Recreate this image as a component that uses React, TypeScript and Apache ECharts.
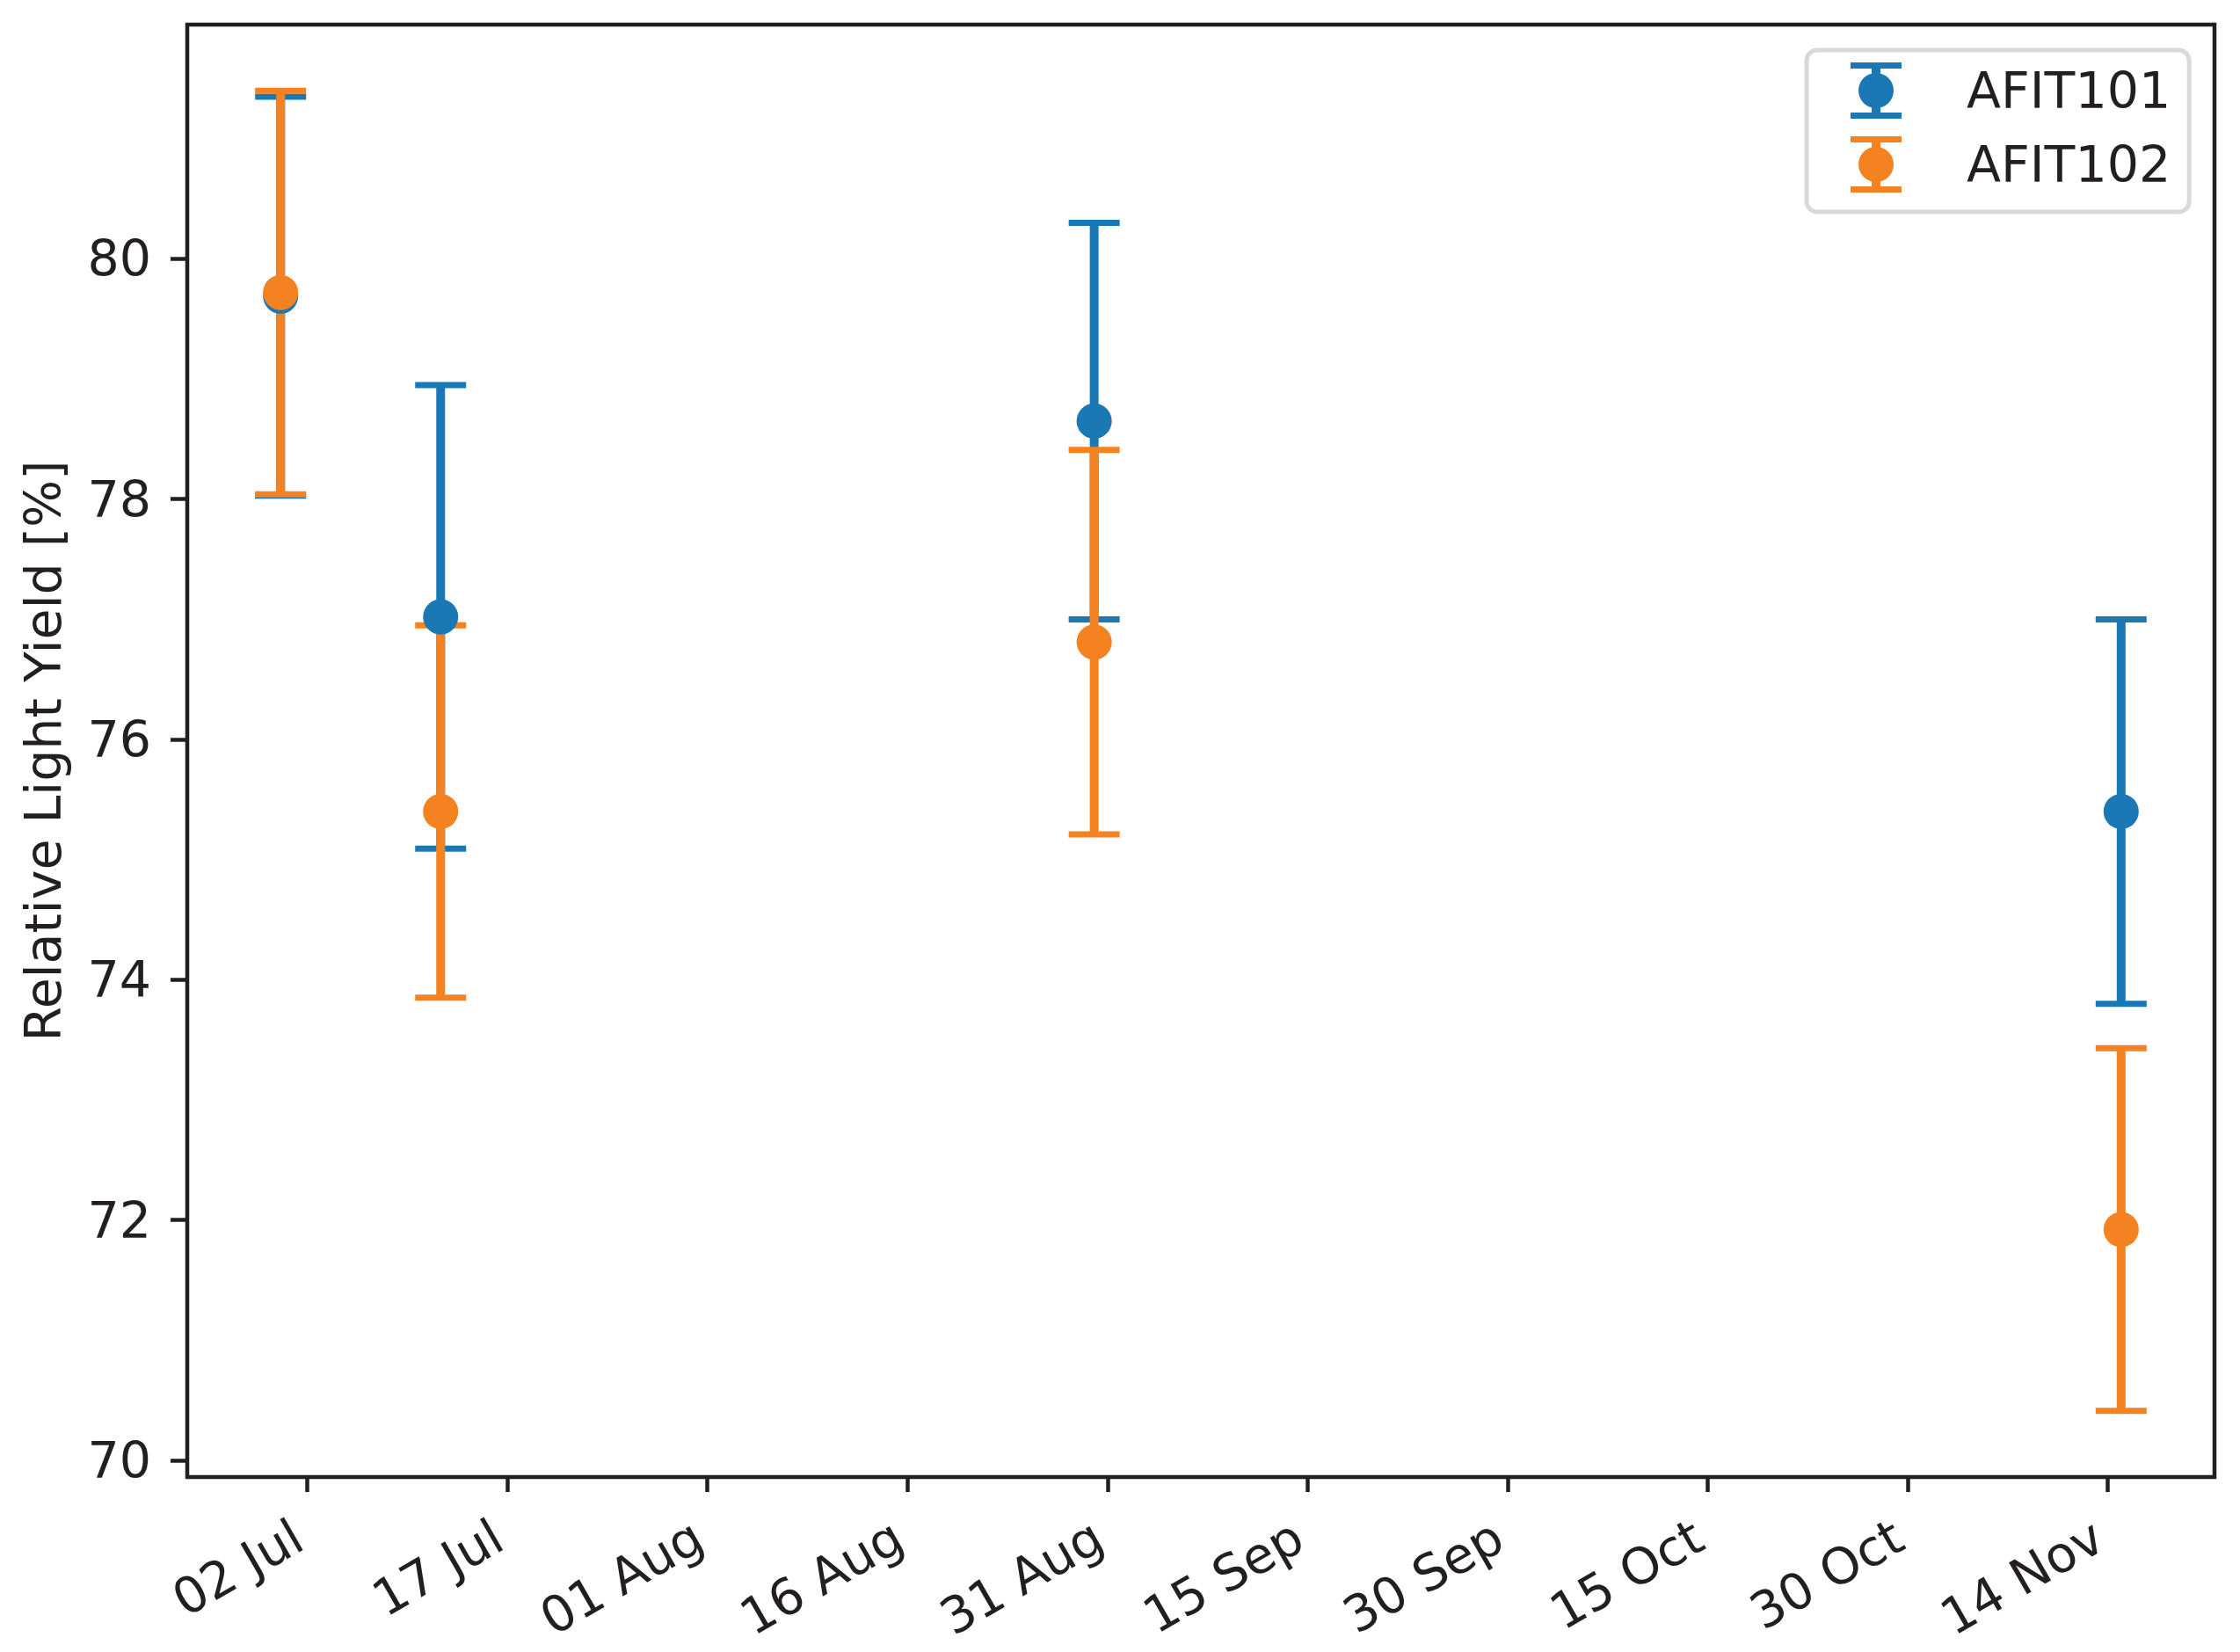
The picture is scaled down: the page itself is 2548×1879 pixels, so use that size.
import React, { useEffect, useRef } from "react";
import * as echarts from "echarts";

// ---- data ----
const BASE_DATE = "2021-07-02";
const AXIS_MIN_DATE = "2021-06-23";
const AXIS_MAX_DATE = "2021-11-22";
const tickDates = [
  "2021-07-02", "2021-07-17", "2021-08-01", "2021-08-16", "2021-08-31",
  "2021-09-15", "2021-09-30", "2021-10-15", "2021-10-30", "2021-11-14",
];
const measureDates = ["2021-06-30", "2021-07-12", "2021-08-30", "2021-11-15"];
const afit101Values = [79.69, 77.02, 78.65, 75.4];
const afit101Errors = [1.66, 1.93, 1.65, 1.6];
const afit102Values = [79.72, 75.4, 76.81, 71.92];
const afit102Errors = [1.68, 1.55, 1.6, 1.51];
const yTicks = [70, 72, 74, 76, 78, 80];
const seriesNames = ["AFIT101", "AFIT102"];

const BLUE = "#1a78b4";
const ORANGE = "#f58220";
const INK = "#231f20";
const FONT = "DejaVu Sans";
const FS = 57;
const MONTHS = ["Jan", "Feb", "Mar", "Apr", "May", "Jun", "Jul", "Aug", "Sep", "Oct", "Nov", "Dec"];

const DAY = 86400000;
const toMs = (s: string) => {
  const [y, m, d] = s.split("-").map(Number);
  return Date.UTC(y, m - 1, d);
};
const toDay = (s: string) => Math.round((toMs(s) - toMs(BASE_DATE)) / DAY);
const fmtDay = (v: number) => {
  const dt = new Date(toMs(BASE_DATE) + Math.round(v) * DAY);
  const dd = String(dt.getUTCDate()).padStart(2, "0");
  return `${dd} ${MONTHS[dt.getUTCMonth()]}`;
};

const ICON =
  "path://M0 0H58V7H0Z M24 7H34V57H24Z M0 57H58V64H0Z M9 32A20 20 0 1 1 49 32A20 20 0 1 1 9 32Z";

function errorBarSeries(name: string, color: string, values: number[], errs: number[]) {
  return {
    type: "custom",
    name,
    z: 2,
    encode: { x: 0, y: [1, 2] },
    data: measureDates.map((d, i) => [toDay(d), values[i] - errs[i], values[i] + errs[i]]),
    renderItem: (params: any, api: any) => {
      const x = api.value(0);
      const top = api.coord([x, api.value(2)]);
      const bot = api.coord([x, api.value(1)]);
      const half = 29;
      return {
        type: "group",
        children: [
          {
            type: "line",
            shape: { x1: top[0], y1: top[1], x2: bot[0], y2: bot[1] },
            style: { stroke: color, lineWidth: 10 },
          },
          {
            type: "line",
            shape: { x1: top[0] - half, y1: top[1], x2: top[0] + half, y2: top[1] },
            style: { stroke: color, lineWidth: 7 },
          },
          {
            type: "line",
            shape: { x1: bot[0] - half, y1: bot[1], x2: bot[0] + half, y2: bot[1] },
            style: { stroke: color, lineWidth: 7 },
          },
        ],
      };
    },
  };
}

function markerSeries(name: string, color: string, values: number[]) {
  return {
    type: "scatter",
    name,
    z: 3,
    symbol: "circle",
    symbolSize: 40,
    itemStyle: { color, opacity: 1 },
    data: measureDates.map((d, i) => [toDay(d), values[i]]),
  };
}

export default function App() {
  const ref = useRef<HTMLDivElement>(null);
  useEffect(() => {
    if (!ref.current) return;
    const chart = echarts.init(ref.current, undefined, { renderer: "svg" });
    const xTickValues = tickDates.map(toDay);
    chart.setOption({
      animation: false,
      backgroundColor: "#ffffff",
      color: [BLUE, ORANGE],
      textStyle: { fontFamily: FONT, color: INK },
      grid: {
        left: 213,
        right: 29,
        top: 28,
        bottom: 199,
        show: true,
        borderColor: INK,
        borderWidth: 4.5,
        backgroundColor: "transparent",
      },
      legend: {
        orient: "vertical",
        left: 2055,
        top: 57,
        padding: [14, 21, 22, 50],
        itemWidth: 58,
        itemHeight: 64,
        itemGap: 20,
        backgroundColor: "#ffffff",
        borderColor: "#d8d9da",
        borderWidth: 5,
        borderRadius: 12,
        textStyle: { fontFamily: FONT, fontSize: FS, color: INK, padding: [0, 0, 0, 69] },
        data: [
          { name: seriesNames[0], icon: ICON, itemStyle: { color: BLUE } },
          { name: seriesNames[1], icon: ICON, itemStyle: { color: ORANGE } },
        ],
      },
      xAxis: {
        type: "value",
        min: toDay(AXIS_MIN_DATE),
        max: toDay(AXIS_MAX_DATE),
        splitLine: { show: false },
        axisLine: { show: false, onZero: false },
        axisTick: {
          show: true,
          length: 17,
          lineStyle: { color: INK, width: 4.5 },
          customValues: xTickValues,
        },
        axisLabel: {
          customValues: xTickValues,
          rotate: 30,
          margin: 57,
          padding: [0, 12, 0, 0],
          fontFamily: FONT,
          fontSize: FS,
          color: INK,
          formatter: (v: number) => fmtDay(v),
        },
      },
      yAxis: {
        type: "value",
        min: 69.86,
        max: 81.95,
        name: "Relative Light Yield [%]",
        nameLocation: "middle",
        nameGap: 136,
        nameTextStyle: { fontFamily: FONT, fontSize: FS, color: INK },
        splitLine: { show: false },
        axisLine: { show: false, onZero: false },
        axisTick: {
          show: true,
          length: 19,
          lineStyle: { color: INK, width: 4.5 },
          customValues: yTicks,
        },
        axisLabel: {
          customValues: yTicks,
          margin: 41,
          fontFamily: FONT,
          fontSize: FS,
          color: INK,
          formatter: (v: number) => String(Math.round(v)),
        },
      },
      series: [
        errorBarSeries(seriesNames[0], BLUE, afit101Values, afit101Errors),
        errorBarSeries(seriesNames[1], ORANGE, afit102Values, afit102Errors),
        markerSeries(seriesNames[0], BLUE, afit101Values),
        markerSeries(seriesNames[1], ORANGE, afit102Values),
      ],
    });
    return () => chart.dispose();
  }, []);
  return (
    <div
      ref={ref}
      style={{ position: "absolute", left: 0, top: 0, width: 2548, height: 1879 }}
    />
  );
}
